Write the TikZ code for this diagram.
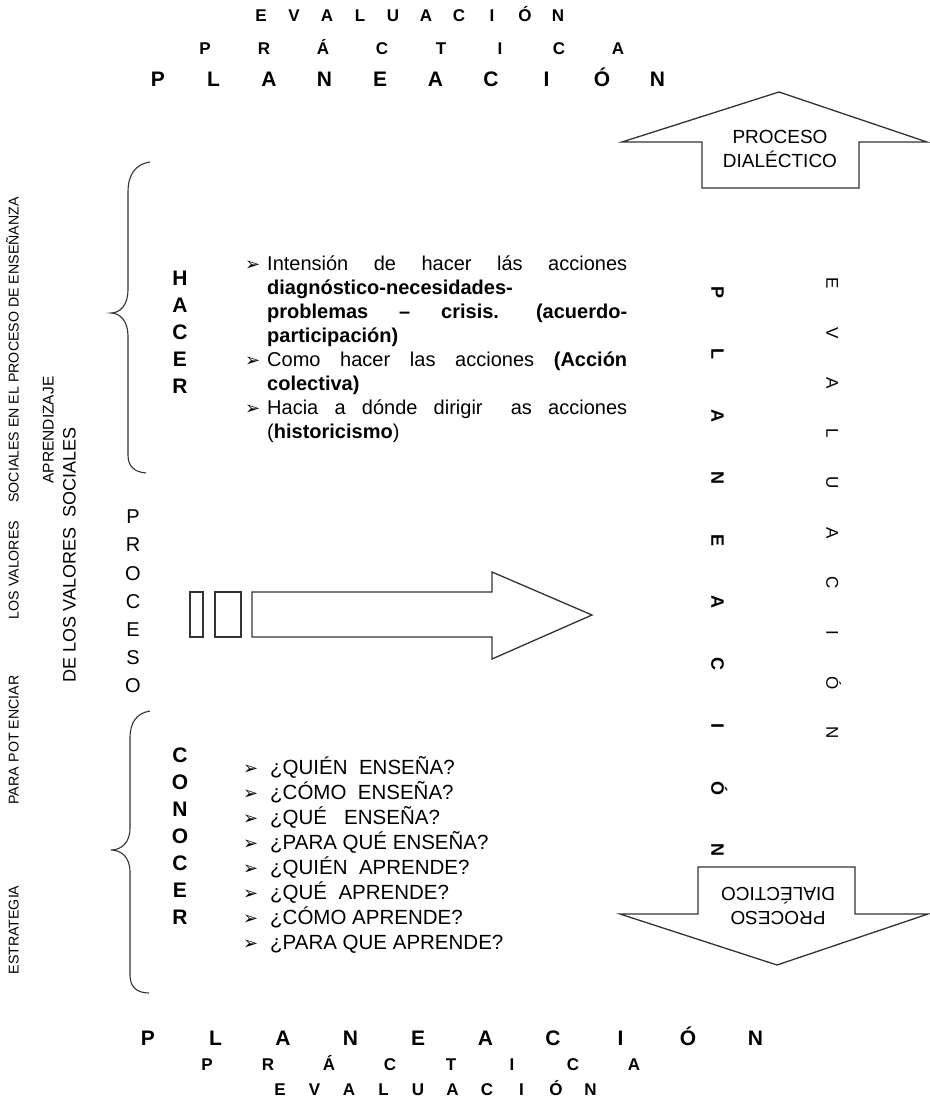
\documentclass[tikz,border=0pt]{standalone}
\usepackage{fontspec}
\setmainfont{Liberation Sans}
\newfontfamily\symfont{DejaVu Sans}
\usetikzlibrary{positioning}
\newcommand{\bul}{{\symfont\fontsize{18}{18}\selectfont ➢}}
\newcommand{\hitem}{\par\noindent\hangindent=22pt\hangafter=1\makebox[22pt][l]{\bul}\ignorespaces}
\tikzset{
titlebig/.style = {inner sep=0pt, text height=0.72em, text depth=0pt, font=\bfseries\fontsize{21}{21}\selectfont},
titlesmall/.style = {inner sep=0pt, text height=0.72em, text depth=0pt, font=\bfseries\fontsize{17}{17}\selectfont},
sidetext/.style = {rotate=90, inner sep=0pt, text height=0.72em, text depth=0pt, font=\fontsize{14.2}{14.2}\selectfont},
keyletter/.style = {inner sep=0pt, text height=0.72em, text depth=0pt, font=\bfseries\fontsize{21}{21}\selectfont},
procletter/.style = {inner sep=0pt, text height=0.72em, text depth=0pt, font=\fontsize{20}{20}\selectfont},
colplan/.style = {rotate=-90, inner sep=0pt, text height=0.72em, text depth=0pt, font=\bfseries\fontsize{18}{18}\selectfont},
coleval/.style = {rotate=-90, inner sep=0pt, text height=0.72em, text depth=0pt, font=\fontsize{17}{17}\selectfont},
listtext/.style = {inner sep=0pt, align=justify, font=\fontsize{20}{24}\selectfont},
qtext/.style = {inner sep=0pt, font=\fontsize{20.5}{25}\selectfont},
arrowlabel/.style = {inner sep=0pt, align=center, font=\fontsize{19}{24}\selectfont},
bigarrow/.style = {draw=black!80, line width=1.3pt, fill=white, line join=miter},
curly/.style = {draw=black!80, line width=1.1pt}
}
\begin{document}
\begin{tikzpicture}[x=1pt,y=-1pt]
\fill[white] (0,0) rectangle (929,1111);
\useasboundingbox (0,0) rectangle (929,1111);
% titulo superior
\foreach \ltr [count=\i] in {E,V,A,L,U,A,C,I,Ó,N}
  \node[titlesmall] (topeval\i) at ({261+(\i-1)*33},18) {\ltr};
\foreach \ltr [count=\i] in {P,R,Á,C,T,I,C,A}
  \node[titlesmall] (topprac\i) at ({205+(\i-1)*59},51) {\ltr};
\foreach \ltr [count=\i] in {P,L,A,N,E,A,C,I,Ó,N}
  \node[titlebig] (topplan\i) at ({158+(\i-1)*55.5},83) {\ltr};
% titulo inferior
\foreach \ltr [count=\i] in {P,L,A,N,E,A,C,I,Ó,N}
  \node[titlebig] (botplan\i) at ({148+(\i-1)*67.5},1042) {\ltr};
\foreach \ltr [count=\i] in {P,R,Á,C,T,I,C,A}
  \node[titlesmall] (botprac\i) at ({207+(\i-1)*61},1067) {\ltr};
\foreach \ltr [count=\i] in {E,V,A,L,U,A,C,I,Ó,N}
  \node[titlesmall] (boteval\i) at ({280+(\i-1)*34.5},1092) {\ltr};
% columnas de la izquierda
\node[sidetext] (colest) at (15,930) {ESTRATEGIA};
\node[sidetext] (colpara) at (15,786) {PARA};
\node[sidetext] (colpot) at (15,719) {POT ENCIAR};
\node[sidetext] (colval) at (15,570) {LOS VALORES};
\node[sidetext] (colsoc) at (15,350) {SOCIALES EN EL PROCESO DE ENSEÑANZA};
\node[sidetext, font=\fontsize{15.5}{15.5}\selectfont] (colapr) at (50,430) {APRENDIZAJE};
\node[sidetext, font=\fontsize{18}{18}\selectfont] (colde) at (72,555) {DE LOS VALORES\ \ SOCIALES};
% llaves
\draw[curly] (150,162) .. controls (136,164) and (128,174) .. (128,192) -- (128,290)
  .. controls (128,305) and (120,313) .. (111,313) .. controls (120,313) and (128,321) .. (128,336)
  -- (128,455) .. controls (128,466) and (134,472) .. (146,473);
\draw[curly] (150,711) .. controls (137,713) and (130,722) .. (130,738) -- (130,828)
  .. controls (130,843) and (121,850) .. (111,850) .. controls (121,850) and (130,857) .. (130,872)
  -- (130,975) .. controls (130,987) and (137,993) .. (149,993);
% hacer
\foreach \ltr [count=\i] in {H,A,C,E,R}
  \node[keyletter] (hac\i) at (180,{282+(\i-1)*27}) {\ltr};
\node[listtext, text width=382pt, anchor=north west] (haclist) at (245,246) {%
\hitem Intensión de hacer lás acciones\linebreak
\textbf{diagnóstico-necesidades-}\newline
\textbf{problemas \ – \ crisis. (acuerdo-}\linebreak
\textbf{participación)}
\hitem Como hacer las acciones \textbf{(Acción}\linebreak
\textbf{colectiva)}
\hitem Hacia a dónde dirigir\hspace{12pt} as acciones\linebreak
(\textbf{historicismo})\par};
% proceso
\foreach \ltr [count=\i] in {P,R,O,C,E,S,O}
  \node[procletter] (proc\i) at (133,{520+(\i-1)*28.2}) {\ltr};
\draw[bigarrow] (190,592) rectangle (203,637);
\draw[bigarrow] (215,592) rectangle (241,637);
\draw[bigarrow] (252,592) -- (492,592) -- (492,572) -- (592,615) -- (492,659) -- (492,637) -- (252,637) -- cycle;
% conocer
\foreach \ltr [count=\i] in {C,O,N,O,C,E,R}
  \node[keyletter] (con\i) at (180,{759+(\i-1)*27}) {\ltr};
\foreach \q [count=\i] in {{¿QUIÉN\ \ ENSEÑA?},{¿CÓMO\ \ ENSEÑA?},{¿QUÉ\ \ \ ENSEÑA?},{¿PARA QUÉ ENSEÑA?},{¿QUIÉN\ \ APRENDE?},{¿QUÉ\ \ APRENDE?},{¿CÓMO APRENDE?},{¿PARA QUE APRENDE?}}
  \node[qtext, anchor=base west] (preg\i) at (243,{774+(\i-1)*25}) {\makebox[27pt][l]{\bul}\q};
% flechas de proceso dialectico
\draw[bigarrow] (702,188) -- (702,142) -- (622,142) -- (779,92) -- (927,142) -- (859,142) -- (859,188) -- cycle;
\node[arrowlabel] (uplabel) at (780,149) {PROCESO\\DIALÉCTICO};
\draw[bigarrow] (698,867) -- (855,867) -- (855,914) -- (928,914) -- (777,965) -- (620,914) -- (698,914) -- cycle;
\node[arrowlabel, rotate=180] (downlabel) at (778,906) {PROCESO\\DIALÉCTICO};
% columnas de la derecha
\foreach \ltr [count=\i] in {P,L,A,N,E,A,C,I,Ó,N}
  \node[colplan] (vplan\i) at (715,{292+(\i-1)*62}) {\ltr};
\foreach \ltr [count=\i] in {E,V,A,L,U,A,C,I,Ó,N}
  \node[coleval] (veval\i) at (830,{283+(\i-1)*50}) {\ltr};
\end{tikzpicture}
\end{document}
